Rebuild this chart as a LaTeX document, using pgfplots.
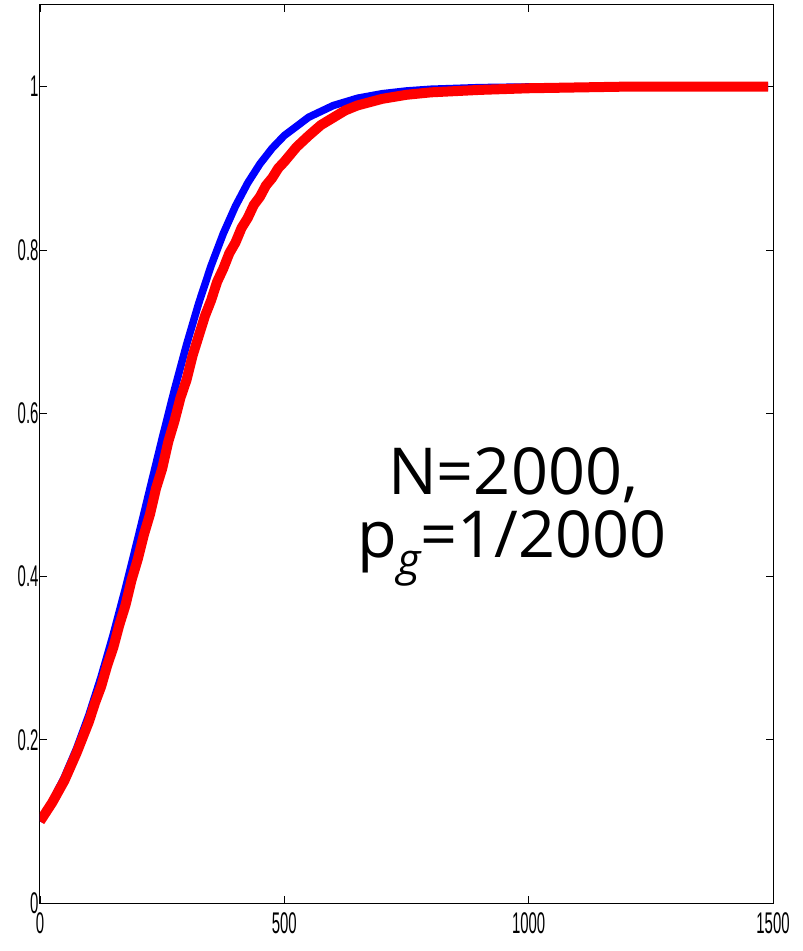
\documentclass[border=0pt]{standalone}
\usepackage{fontspec}
\setmainfont{Open Sans}
\newfontfamily\tickfont[FakeStretch=0.5]{Liberation Sans}
\usepackage{pgfplots}
\pgfplotsset{compat=1.18}
\begin{document}
\begin{tikzpicture}
\begin{axis}[
  scale only axis,
  width=733bp, height=898bp,
  xmin=0, xmax=1500, ymin=0, ymax=1.1,
  xtick={0,500,1000,1500}, xticklabels={0,500,1000,1500},
  ytick={0,0.2,0.4,0.6,0.8,1}, yticklabels={0,0.2,0.4,0.6,0.8,1},
  tick align=inside,
  major tick length=7bp,
  axis line style={line width=1bp, black},
  every tick/.style={line width=0.8bp, black},
  tick label style={font=\tickfont\fontsize{30}{30}\selectfont},
  /pgf/number format/assume math mode=true,
  xticklabel style={yshift=-6bp},
  yticklabel style={xshift=2bp},
  clip=true,
]
\addplot[blue, line width=7.5bp, line join=round] coordinates {
(0,0.1000) (25,0.1246) (50,0.1542) (75,0.1893) (100,0.2302) (125,0.2769)
(150,0.3291) (175,0.3858) (200,0.4459) (225,0.5076) (250,0.5690) (275,0.6284)
(300,0.6841) (325,0.7350) (350,0.7804) (375,0.8199) (400,0.8536) (425,0.8819)
(450,0.9053) (475,0.9245) (500,0.9401) (550,0.9626) (600,0.9768) (650,0.9858)
(700,0.9913) (750,0.9947) (800,0.9968) (900,0.9988) (1000,0.9996) (1200,1.0) (1490,1.0)
};
\addplot[red, line width=10bp, line join=round] coordinates {
(0,0.100) (25,0.123) (50,0.150) (75,0.184) (100,0.222) (112.5,0.245) (125,0.265)
(137.5,0.291) (150,0.313) (162.5,0.341) (175,0.365) (187.5,0.396) (200,0.421)
(212.5,0.451) (225,0.476) (237.5,0.508) (250,0.532) (262.5,0.565) (275,0.590)
(287.5,0.619) (300,0.641) (312.5,0.671) (325,0.695) (337.5,0.719) (350,0.738)
(362.5,0.761) (375,0.777) (387.5,0.796) (400,0.809) (412.5,0.827) (425,0.839)
(437.5,0.855) (450,0.865) (462.5,0.879) (475,0.888) (487.5,0.900) (500,0.908)
(525,0.926) (550,0.940) (575,0.953) (600,0.962) (625,0.971) (650,0.977)
(700,0.985) (750,0.990) (800,0.993) (900,0.996) (1000,0.998) (1100,0.999)
(1200,1.0) (1490,1.0)
};
\node[anchor=base, font=\fontsize{65}{65}\selectfont] at (axis cs:968,0.5) {N=2000,};
\node[anchor=base, font=\fontsize{65}{65}\selectfont] at (axis cs:966,0.423) {p\raisebox{-0.28em}{\fontsize{45}{45}\selectfont\itshape g}=1/2000};
\end{axis}
\pgfresetboundingbox
\path ([xshift=-40bp,yshift=-48bp]current axis.south west) rectangle ([xshift=30bp,yshift=5bp]current axis.north east);
\end{tikzpicture}
\end{document}
